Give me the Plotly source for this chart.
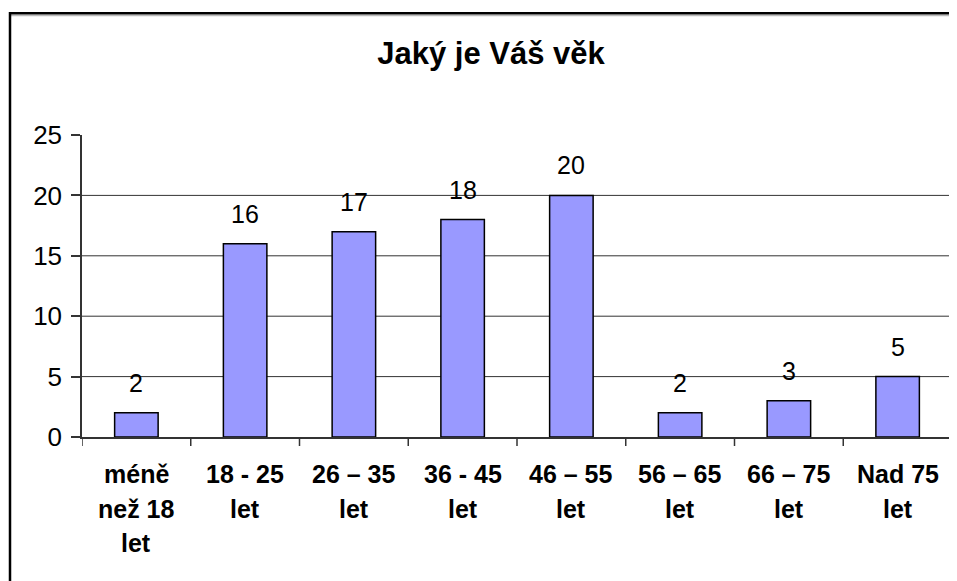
import plotly.graph_objects as go

categories = ["méně<br>než 18<br>let", "18 - 25<br>let", "26 – 35<br>let", "36 - 45<br>let",
              "46 – 55<br>let", "56 – 65<br>let", "66 – 75<br>let", "Nad 75<br>let"]
values = [2, 16, 17, 18, 20, 2, 3, 5]
y_ticks = [0, 5, 10, 15, 20, 25]
grid_values = [5, 10, 15, 20]
title_text = "Jaký je Váš věk"

# the page body adds an 8px offset, so figure coordinates are screen - 8
W, H = 957, 581
L, R, T, B = 74, 13, 127, 152
pw, ph = W - L - R, H - T - B

FONT = "Liberation Sans, Arial, sans-serif"

fig = go.Figure()
fig.add_trace(go.Bar(
    x=list(range(len(categories))), y=values,
    width=0.4,
    marker=dict(color="#9999FF", line=dict(color="#000000", width=1.5)),
    hoverinfo="skip",
))

annotations = []
for i, v in enumerate(values):
    annotations.append(dict(x=i, y=v, xref="x", yref="y", text=str(v), showarrow=False,
                            yanchor="bottom", yshift=14,
                            font=dict(family=FONT, size=25, color="#000000")))
for i, c in enumerate(categories):
    for j, line in enumerate(c.split("<br>")):
        annotations.append(dict(x=i, y=0, xref="x", yref="paper", text="<b>" + line + "</b>",
                                showarrow=False, yanchor="middle", yshift=-(37 + 34.5 * j),
                                font=dict(family=FONT, size=25, color="#000000")))

shapes = []
for g in grid_values:
    shapes.append(dict(type="line", xref="x domain", yref="y", x0=0, x1=1, y0=g, y1=g,
                       line=dict(color="#333333", width=1), layer="below"))

def px_x(p):
    return (p - L) / pw

def px_y(p):
    return (H - B - p) / ph

# outer chart frame
shapes.append(dict(type="line", xref="paper", yref="paper", x0=px_x(2), x1=px_x(1000),
                   y0=px_y(7.5), y1=px_y(7.5), line=dict(color="#bbbbbb", width=1.5)))
shapes.append(dict(type="rect", xref="paper", yref="paper", x0=px_x(2), x1=px_x(1000),
                   y0=px_y(700), y1=px_y(5.3), line=dict(color="#000000", width=2.5)))

fig.update_layout(
    width=W, height=H,
    margin=dict(l=L, r=R, t=T, b=B, pad=0),
    paper_bgcolor="#ffffff", plot_bgcolor="#ffffff",
    showlegend=False,
    title=dict(text="<b>" + title_text + "</b>", x=483 / W, y=1 - 45 / H,
               xanchor="center", yanchor="middle",
               font=dict(family=FONT, size=31, color="#000000")),
    xaxis=dict(
        range=[-0.5, len(categories) - 0.5],
        tickmode="array", tickvals=list(range(len(categories))),
        showticklabels=False,
        showgrid=False, zeroline=False,
        showline=True, linecolor="#333333", linewidth=1.5,
        ticks="",
    ),
    yaxis=dict(
        range=[0, 25], tickmode="array", tickvals=y_ticks,
        showgrid=False, zeroline=False,
        showline=True, linecolor="#333333", linewidth=1.5,
        ticks="outside", ticklen=9, tickcolor="#333333", tickwidth=1.5,
        tickfont=dict(family=FONT, size=26, color="#000000"),
        ticklabelstandoff=4,
    ),
    annotations=annotations,
    shapes=shapes,
)

# x-axis boundary ticks between categories
for k in range(len(categories) + 1):
    fig.add_shape(type="line", xref="x", yref="paper", x0=k - 0.5, x1=k - 0.5,
                  y0=0, y1=-9 / ph, line=dict(color="#333333", width=1.5))

fig.write_html("out.html")
